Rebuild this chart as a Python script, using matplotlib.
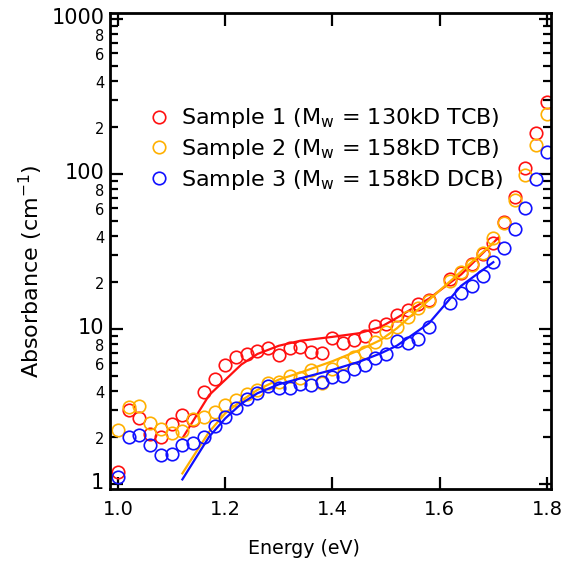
import numpy as np
import matplotlib
matplotlib.use('Agg')
import matplotlib.pyplot as plt
import matplotlib.transforms as mtransforms
from matplotlib.ticker import LogLocator, FuncFormatter, MultipleLocator

plt.rcParams['font.family'] = ['DejaVu Sans']
plt.rcParams['mathtext.default'] = 'regular'

# energy grid of the measured points (1.60 eV is missing)
energy = [1.00, 1.02, 1.04, 1.06, 1.08, 1.10, 1.12, 1.14, 1.16, 1.18,
          1.20, 1.22, 1.24, 1.26, 1.28, 1.30, 1.32, 1.34, 1.36, 1.38,
          1.40, 1.42, 1.44, 1.46, 1.48, 1.50, 1.52, 1.54, 1.56, 1.58,
          1.62, 1.64, 1.66, 1.68, 1.70, 1.72, 1.74, 1.76, 1.78, 1.80]

sample1 = [1.2, 3.0, 2.65, 2.1, 2.0, 2.45, 2.8, 2.6, 3.95, 4.75,
           5.9, 6.6, 6.9, 7.25, 7.5, 6.8, 7.5, 7.7, 7.15, 7.0,
           8.8, 8.15, 8.5, 9.0, 10.5, 10.8, 12.3, 13.3, 14.5, 15.4,
           20.9, 23.1, 26.3, 30.5, 35.7, 49.2, 71.4, 109, 185, 293]
sample2 = [2.23, 3.15, 3.19, 2.46, 2.25, 2.14, 2.21, 2.61, 2.72, 2.93,
           3.23, 3.48, 3.81, 4.04, 4.5, 4.57, 4.95, 4.8, 5.47, 4.5,
           5.5, 6.0, 6.63, 7.14, 8.28, 9.6, 10.35, 12.0, 13.6, 15.2,
           20.5, 23.4, 25.9, 31.1, 38.5, 48.6, 68, 99, 154, 243]
sample3 = [1.11, 2.02, 2.07, 1.78, 1.54, 1.56, 1.78, 1.85, 2.0, 2.37,
           2.72, 3.08, 3.54, 3.85, 4.27, 4.18, 4.15, 4.4, 4.35, 4.57,
           4.87, 5.0, 5.55, 5.86, 6.52, 6.9, 8.4, 8.1, 8.6, 10.3,
           14.8, 17.0, 18.9, 22.0, 27.2, 33.5, 44.2, 60.1, 92.5, 138]

# fit curves
fit1_x = [1.12, 1.14, 1.17, 1.20, 1.23, 1.26, 1.30, 1.34, 1.40, 1.45, 1.49, 1.52, 1.58, 1.64, 1.71]
fit1_y = [1.97, 2.55, 3.75, 4.7, 5.9, 6.9, 7.8, 8.4, 8.9, 9.4, 10.3, 11.8, 15.7, 22.5, 39]
fit2_x = [1.12, 1.14, 1.17, 1.20, 1.23, 1.26, 1.30, 1.34, 1.40, 1.45, 1.49, 1.52, 1.58, 1.64, 1.70]
fit2_y = [1.17, 1.5, 2.17, 2.86, 3.45, 4.05, 4.72, 5.23, 6.2, 7.3, 8.5, 10.1, 15.4, 23.5, 36]
fit3_x = [1.12, 1.14, 1.17, 1.20, 1.23, 1.26, 1.30, 1.34, 1.40, 1.45, 1.49, 1.52, 1.58, 1.64, 1.70]
fit3_y = [1.07, 1.38, 2.02, 2.65, 3.3, 3.85, 4.4, 4.8, 5.45, 6.15, 6.97, 7.8, 10.9, 19, 27]

labels = ['Sample 1 (M$_w$ = 130kD TCB)',
          'Sample 2 (M$_w$ = 158kD TCB)',
          'Sample 3 (M$_w$ = 158kD DCB)']
colors = ['#ff1010', '#ffb000', '#1010ff']

fig = plt.figure(figsize=(5.69, 5.63), dpi=100)
ax = fig.add_axes([0.1933, 0.1314, 0.775, 0.8455])

for ys, fx, fy, c, lab in zip([sample1, sample2, sample3],
                              [fit1_x, fit2_x, fit3_x],
                              [fit1_y, fit2_y, fit3_y], colors, labels):
    ax.plot(energy, ys, 'o', mfc='none', mec=c, ms=9, mew=1.2, label=lab)
    ax.plot(fx, fy, '-', color=c, lw=1.6)

ax.set_yscale('log')
ax.set_xlim(0.985, 1.8075)
ax.set_ylim(0.928, 1094)

ax.xaxis.set_major_locator(MultipleLocator(0.2))
ax.yaxis.set_major_locator(LogLocator(base=10, numticks=10))
ax.yaxis.set_minor_locator(LogLocator(base=10, subs=np.arange(2, 10), numticks=20))
ax.yaxis.set_major_formatter(FuncFormatter(lambda v, p: '%d' % round(v)))

def minor_fmt(v, p):
    m = int(round(v / 10 ** np.floor(np.log10(v) + 1e-9)))
    return str(m) if m in (2, 4, 6, 8) else ''

ax.yaxis.set_minor_formatter(FuncFormatter(minor_fmt))
ax.xaxis.set_major_formatter(FuncFormatter(lambda v, p: '%.1f' % v))

ax.tick_params(which='both', direction='in', top=True, right=True, width=1.6)
ax.tick_params(which='major', length=9)
ax.tick_params(which='minor', length=6)
ax.tick_params(axis='x', labelsize=14, pad=8)
ax.tick_params(axis='y', which='major', labelsize=15, pad=4)
ax.tick_params(axis='y', which='minor', labelsize=10.5, pad=4)
for s in ax.spines.values():
    s.set_linewidth(2)

# nudge decade labels up a little so they clear the '8' below them
shift_up = mtransforms.ScaledTranslation(0, 3 / 100, fig.dpi_scale_trans)
for t in ax.yaxis.get_majorticklabels():
    t.set_transform(t.get_transform() + shift_up)
shift_dn = mtransforms.ScaledTranslation(0, -1 / 100, fig.dpi_scale_trans)
for t in ax.yaxis.get_minorticklabels():
    t.set_transform(t.get_transform() + shift_dn)

ax.set_xlabel('Energy (eV)', fontsize=13.7, labelpad=10)
ax.xaxis.set_label_coords(0.44, -0.105)
ax.set_ylabel('Absorbance (cm$^{-1}$)', fontsize=16, labelpad=4)
ax.yaxis.set_label_coords(-0.148, 0.458)

ax.legend(loc='center left', bbox_to_anchor=(0.065, 0.714), frameon=False,
          fontsize=16, handlelength=1.0, handletextpad=0.5, labelspacing=0.3,
          borderaxespad=0)

fig.savefig('out.png', dpi=100)
